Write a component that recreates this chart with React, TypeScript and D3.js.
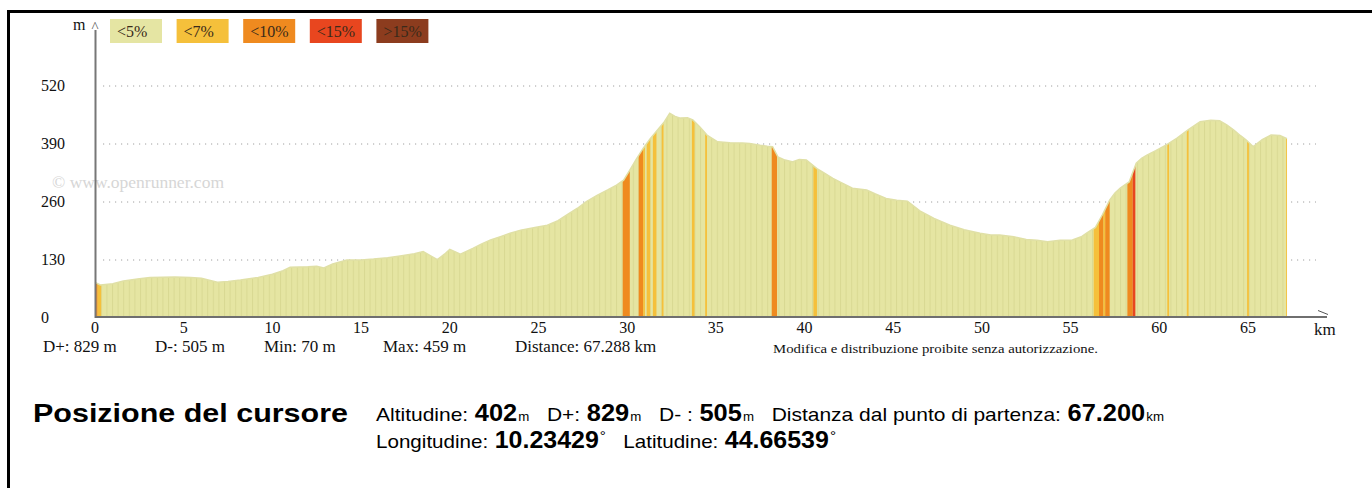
import { useEffect, useRef } from "react";
import * as d3 from "d3";

// elevation profile: [km, metres]
const profile: [number, number][] = [
  [0, 80], [0.3, 74], [1.0, 77], [1.6, 83], [2.5, 88], [3.1, 91], [4.5, 92],
  [5.4, 91], [6.0, 89], [6.5, 84], [6.9, 80], [7.5, 82], [8.2, 85], [9.2, 91],
  [10.0, 98], [10.6, 106], [11.0, 114], [12.0, 115], [12.5, 116], [12.9, 112],
  [13.4, 121], [14.2, 130], [15.0, 130], [15.7, 132], [16.5, 135], [17.2, 139],
  [18.0, 144], [18.5, 149], [18.9, 140], [19.3, 131], [19.7, 143], [20.0, 154],
  [20.6, 143], [21.3, 156], [21.8, 166], [22.3, 175], [22.9, 183], [23.4, 190],
  [24.0, 197], [24.8, 203], [25.5, 208], [26.1, 218], [26.6, 231], [27.2, 246],
  [27.7, 261], [28.3, 275], [28.9, 287], [29.4, 298], [29.8, 309], [30.2, 335],
  [30.5, 355], [30.9, 380], [31.3, 402], [31.7, 421], [32.1, 440], [32.4, 459],
  [32.7, 452], [33.0, 448], [33.4, 449], [33.7, 444], [34.1, 428], [34.5, 410],
  [35.1, 395], [35.8, 393], [36.5, 392], [36.9, 391], [37.5, 387], [37.9, 385],
  [38.2, 384], [38.5, 361], [38.9, 354], [39.3, 350], [39.7, 355], [40.1, 354],
  [40.7, 335], [41.1, 325], [41.6, 313], [42.1, 303], [42.7, 291], [43.5, 287],
  [44.0, 278], [44.6, 268], [45.2, 264], [45.8, 262], [46.5, 240], [47.3, 223],
  [48.2, 208], [49.0, 198], [49.9, 190], [50.5, 186], [51.0, 186], [51.8, 182],
  [52.5, 176], [53.1, 174], [53.7, 171], [54.4, 174], [55.1, 175], [55.6, 182],
  [55.9, 190], [56.4, 203], [56.8, 232], [57.2, 264], [57.5, 280], [57.8, 291],
  [58.3, 305], [58.7, 347], [59.0, 358], [59.3, 365], [59.8, 375], [60.4, 388],
  [61.0, 403], [61.6, 421], [62.3, 440], [62.9, 443], [63.4, 442], [63.8, 433],
  [64.2, 421], [64.6, 408], [64.9, 399], [65.3, 384], [65.8, 400], [66.3, 410],
  [66.8, 409], [67.2, 402],
];

// slope sections: [from km, to km, legend index]
const slopes: [number, number, number][] = [
  [0, 0.15, 2], [0.15, 0.35, 1],
  [29.75, 30.15, 2], [30.65, 30.9, 2], [30.9, 31.0, 1], [31.1, 31.3, 1],
  [31.45, 31.65, 1], [31.95, 32.05, 1], [33.65, 33.8, 1], [34.4, 34.5, 1],
  [38.15, 38.45, 2], [40.5, 40.7, 1],
  [56.3, 56.6, 1], [56.6, 56.85, 2], [56.85, 56.95, 1], [56.95, 57.2, 2],
  [58.2, 58.5, 2], [58.5, 58.65, 3],
  [60.45, 60.55, 1], [61.55, 61.65, 1], [64.95, 65.05, 1], [67.15, 67.25, 1],
];

const legendLabels = ["<5%", "<7%", "<10%", "<15%", ">15%"];
const legendColors = ["#e5e5a3", "#f5c03b", "#ef8a1f", "#e8461f", "#8c3c1e"];

const yTicks = [0, 130, 260, 390, 520];
const xTicks = d3.range(0, 70, 5);

const stats = ["D+: 829 m", "D-: 505 m", "Min: 70 m", "Max: 459 m", "Distance: 67.288 km"];
const statX = [43, 155, 264, 383, 515];

const cursorLine1 = [
  { label: "Altitudine:", value: "402", unit: "m" },
  { label: "D+:", value: "829", unit: "m" },
  { label: "D- :", value: "505", unit: "m" },
  { label: "Distanza dal punto di partenza:", value: "67.200", unit: "km" },
];
const cursorLine2 = [
  { label: "Longitudine:", value: "10.23429", unit: "°" },
  { label: "Latitudine:", value: "44.66539", unit: "°" },
];

const SERIF = "'Liberation Serif', 'Times New Roman', serif";
const SANS = "'Liberation Sans Narrow', 'Arial Narrow', 'Liberation Sans', Arial, sans-serif";
const SANS_BOLD = "'Liberation Sans', Arial, sans-serif";

export default function App() {
  const svgRef = useRef<SVGSVGElement>(null);

  useEffect(() => {
    const svgEl = svgRef.current;
    if (!svgEl) return;
    const svg = d3.select(svgEl);
    svg.selectAll("*").remove();

    const x = d3.scaleLinear().domain([0, 65]).range([95, 1248]);
    const y = d3.scaleLinear().domain([0, 520]).range([318, 86]);

    const defs = svg.append("defs");
    const pat = defs
      .append("pattern")
      .attr("id", "stripes")
      .attr("patternUnits", "userSpaceOnUse")
      .attr("width", 5.6)
      .attr("height", 20);
    pat.append("rect").attr("width", 5.6).attr("height", 20).attr("fill", "#e5e5a2");
    pat
      .append("rect")
      .attr("width", 1)
      .attr("height", 20)
      .attr("fill", "#d9d993");

    const area = d3
      .area<[number, number]>()
      .x((d) => x(d[0]))
      .y0(y(0))
      .y1((d) => y(d[1]));

    defs
      .append("clipPath")
      .attr("id", "profile-clip")
      .append("path")
      .attr("d", area(profile)!);

    // frame
    svg.append("line").attr("x1", 7).attr("x2", 1372).attr("y1", 11.5).attr("y2", 11.5)
      .attr("stroke", "#000").attr("stroke-width", 3);
    svg.append("line").attr("x1", 8.5).attr("x2", 8.5).attr("y1", 10).attr("y2", 488)
      .attr("stroke", "#000").attr("stroke-width", 3);

    // watermark
    svg.append("text")
      .attr("x", 52).attr("y", 188)
      .attr("font-family", SERIF).attr("font-size", 16)
      .attr("fill", "#d6d6d6")
      .attr("textLength", 172)
      .attr("lengthAdjust", "spacingAndGlyphs")
      .text("© www.openrunner.com");

    // grid
    svg.append("g")
      .selectAll("line")
      .data(yTicks.filter((t) => t > 0))
      .enter()
      .append("line")
      .attr("x1", 103)
      .attr("x2", 1316)
      .attr("y1", (d) => y(d))
      .attr("y2", (d) => y(d))
      .attr("stroke", "#a0a0a0")
      .attr("stroke-width", 1)
      .attr("stroke-dasharray", "1.2,4.8");

    // profile
    svg.append("path")
      .attr("d", area(profile)!)
      .attr("fill", "url(#stripes)");

    svg.append("g")
      .attr("clip-path", "url(#profile-clip)")
      .selectAll("rect")
      .data(slopes)
      .enter()
      .append("rect")
      .attr("x", (d) => x(d[0]))
      .attr("width", (d) => x(d[1]) - x(d[0]))
      .attr("y", y(520))
      .attr("height", y(0) - y(520))
      .attr("fill", (d) => legendColors[d[2]]);

    svg.append("path")
      .attr("d", d3.line<[number, number]>().x((d) => x(d[0])).y((d) => y(d[1]))(profile)!)
      .attr("fill", "none")
      .attr("stroke", "#e0e0a6")
      .attr("stroke-width", 1.5);

    // axes
    svg.append("line").attr("x1", 95.5).attr("x2", 95.5).attr("y1", 30).attr("y2", y(0))
      .attr("stroke", "#777").attr("stroke-width", 2);
    svg.append("line").attr("x1", 95).attr("x2", 1327).attr("y1", y(0) - 1).attr("y2", y(0) - 1)
      .attr("stroke", "#6f6f6f").attr("stroke-width", 2);
    svg.append("path")
      .attr("d", "M1318,310.5 L1328,314.5")
      .attr("stroke", "#555").attr("stroke-width", 1).attr("fill", "none");
    svg.append("text").attr("x", 91.5).attr("y", 32)
      .attr("font-family", SERIF).attr("font-size", 15).attr("fill", "#555").text("^");
    svg.append("text").attr("x", 73).attr("y", 30)
      .attr("font-family", SERIF).attr("font-size", 16).attr("fill", "#111").text("m");
    svg.append("text").attr("x", 1314).attr("y", 335)
      .attr("font-family", SERIF).attr("font-size", 17).attr("fill", "#111").text("km");

    svg.append("g")
      .selectAll("text")
      .data(yTicks)
      .enter()
      .append("text")
      .attr("x", 41)
      .attr("y", (d) => y(d) + 5)
      .attr("font-family", SERIF)
      .attr("font-size", 16)
      .attr("fill", "#111")
      .text((d) => String(d));

    svg.append("g")
      .selectAll("text")
      .data(xTicks)
      .enter()
      .append("text")
      .attr("x", (d) => x(d))
      .attr("y", 333)
      .attr("text-anchor", "middle")
      .attr("font-family", SERIF)
      .attr("font-size", 16)
      .attr("fill", "#111")
      .text((d) => String(d));

    // legend
    const leg = svg.append("g")
      .selectAll("g")
      .data(legendLabels)
      .enter()
      .append("g")
      .attr("transform", (_, i) => `translate(${110 + i * 66.6},19)`);
    leg.append("rect").attr("width", 52).attr("height", 24)
      .attr("fill", (_, i) => legendColors[i]);
    leg.append("text").attr("x", 7).attr("y", 18)
      .attr("font-family", SERIF).attr("font-size", 16).attr("fill", "#3a2a1a")
      .text((d) => d);

    // stats
    svg.append("g")
      .selectAll("text")
      .data(stats)
      .enter()
      .append("text")
      .attr("x", (_, i) => statX[i])
      .attr("y", 352)
      .attr("font-family", SERIF)
      .attr("font-size", 17)
      .attr("fill", "#111")
      .text((d) => d);

    svg.append("text")
      .attr("x", 773).attr("y", 353)
      .attr("font-family", SERIF).attr("font-size", 13).attr("fill", "#111")
      .attr("textLength", 325)
      .attr("lengthAdjust", "spacingAndGlyphs")
      .text("Modifica e distribuzione proibite senza autorizzazione.");

    // cursor panel
    svg.append("text")
      .attr("x", 33).attr("y", 422)
      .attr("font-family", SANS_BOLD).attr("font-weight", "bold").attr("font-size", 25)
      .attr("fill", "#000")
      .attr("textLength", 315)
      .attr("lengthAdjust", "spacingAndGlyphs")
      .text("Posizione del cursore");

    const writeLine = (items: typeof cursorLine1, yy: number, len: number) => {
      const t = svg.append("text")
        .attr("x", 376).attr("y", yy)
        .attr("fill", "#000")
        .attr("textLength", len)
        .attr("lengthAdjust", "spacingAndGlyphs");
      items.forEach((it, i) => {
        const prevDeg = i > 0 && items[i - 1].unit === "°";
        t.append("tspan").attr("dx", i === 0 ? 0 : 16).attr("dy", prevDeg ? 7 : 0)
          .attr("font-family", SANS).attr("font-size", 19).text(it.label);
        t.append("tspan").attr("dx", 6)
          .attr("font-family", SANS).attr("font-weight", "bold").attr("font-size", 23).text(it.value);
        const deg = it.unit === "°";
        t.append("tspan").attr("dx", 1).attr("dy", deg ? -7 : 0).attr("font-family", SANS)
          .attr("font-size", deg ? 14 : 12).text(it.unit);
      });
    };
    writeLine(cursorLine1, 421, 788);
    writeLine(cursorLine2, 448, 460);
  }, []);

  return (
    <svg
      ref={svgRef}
      width={1372}
      height={488}
      style={{ position: "fixed", left: 0, top: 0, display: "block", background: "#fff" }}
    />
  );
}
